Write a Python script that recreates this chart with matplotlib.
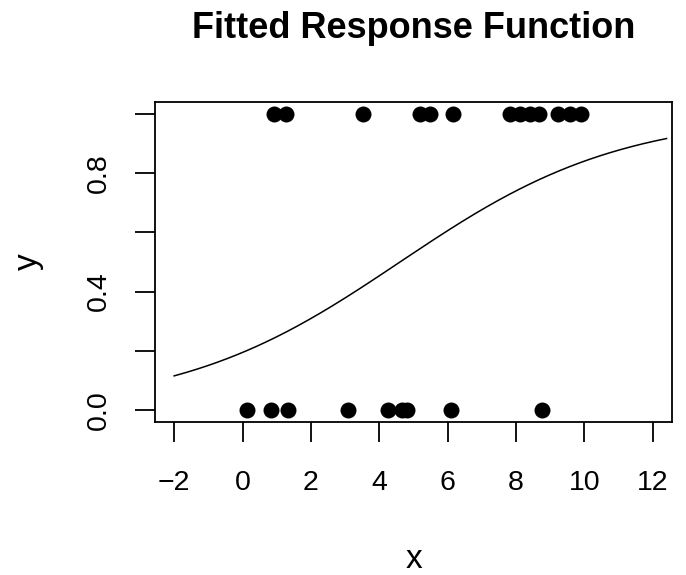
import numpy as np
import matplotlib
matplotlib.use("Agg")
import matplotlib.pyplot as plt

x_fail = [0.13, 0.84, 1.33, 3.07, 4.26, 4.65, 4.80, 6.10, 8.77]
x_success = [0.92, 1.26, 3.51, 5.19, 5.48, 6.16, 7.82, 8.11, 8.40, 8.67, 9.24, 9.58, 9.89]

# fitted logistic coefficients (intercept, slope)
coef = [-1.423, 0.309]
curve_range = [-2, 12.4]
x_lim = [-2, 12]

x_ticks = [-2, 0, 2, 4, 6, 8, 10, 12]
x_ticklabels = ["\u22122", "0", "2", "4", "6", "8", "10", "12"]
y_ticks = [0.0, 0.2, 0.4, 0.6, 0.8, 1.0]
y_ticklabels = ["0.0", "", "0.4", "", "0.8", ""]

plt.rcParams['font.family'] = ['Liberation Sans', 'DejaVu Sans']

fig = plt.figure(figsize=(6.86, 5.75), dpi=100)
ax = fig.add_axes([155 / 686, 1 - 421.7 / 575, (672 - 155) / 686, (421.7 - 102.3) / 575])

xs = np.linspace(curve_range[0], curve_range[1], 300)
ys = 1.0 / (1.0 + np.exp(-(coef[0] + coef[1] * xs)))
ax.plot(xs, ys, color='black', lw=1.1)

x_pts = np.array(x_fail + x_success)
y_pts = np.array([0] * len(x_fail) + [1] * len(x_success))
ax.plot(x_pts, y_pts, 'o', color='black', ms=11.5, mew=0)

# R-style 4% padding
span = x_lim[1] - x_lim[0]
ax.set_xlim(x_lim[0] - 0.04 * span, x_lim[1] + 0.04 * span)
ax.set_ylim(-0.04, 1.04)

ax.set_xticks(x_ticks)
ax.set_xticklabels(x_ticklabels)
ax.set_yticks(y_ticks)
ax.set_yticklabels(y_ticklabels, rotation=90, va='center')

for s in ax.spines.values():
    s.set_linewidth(1.3)
ax.tick_params(axis='both', length=14.4, width=1.3, labelsize=20.5)
ax.tick_params(axis='x', pad=20.5)
ax.tick_params(axis='y', pad=16.5)

fig.text(413.5 / 686, 1 - 37.7 / 575, "Fitted Response Function",
         ha='center', va='baseline', fontsize=26, fontweight='bold')
fig.text(413.5 / 686, 1 - 568 / 575, "x", ha='center', va='baseline', fontsize=24)
fig.text(28 / 686, 1 - 261.8 / 575, "y", ha='center', va='center', fontsize=24, rotation=90)

fig.savefig("out.png", dpi=100)
